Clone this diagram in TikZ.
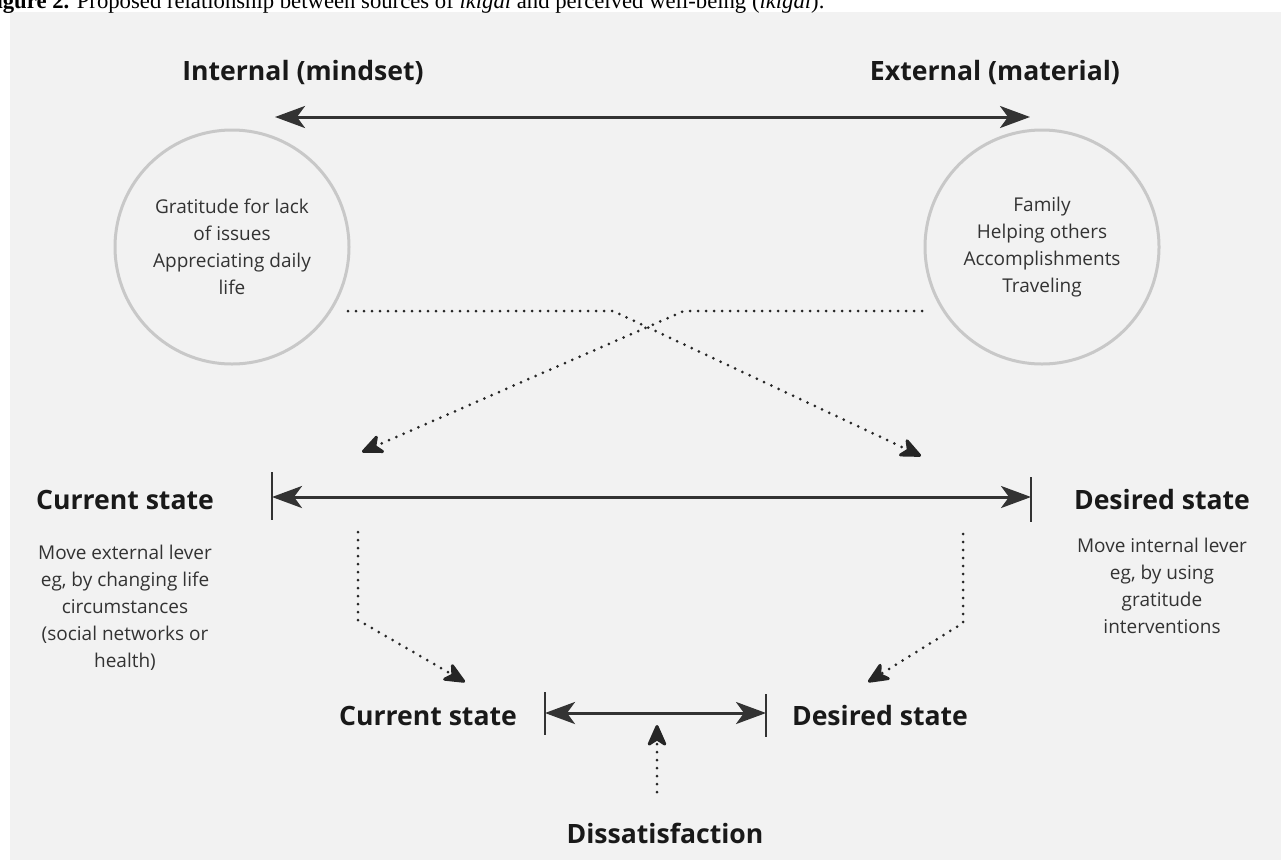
\documentclass[tikz,border=0pt]{standalone}
\usepackage{fontspec}
\setmainfont{Open Sans}
\newfontfamily\capfont{Liberation Serif}
\usetikzlibrary{arrows.meta,positioning}
\definecolor{bggray}{HTML}{F2F2F2}
\definecolor{ink}{HTML}{333333}
\definecolor{ringgray}{HTML}{C8C8C8}
\begin{document}
\begin{tikzpicture}[x=1pt, y=-1pt,
  head/.style={font=\fontsize{26.6}{32}\selectfont\bfseries, text=black!90, inner sep=0pt},
  body/.style={font=\fontsize{19}{27}\selectfont, text=ink, align=center, inner sep=0pt},
  ring/.style={circle, draw=ringgray, line width=3pt, minimum size=234pt, inner sep=0pt,
    font=\fontsize{19}{27}\selectfont, text=ink, align=center},
  bigarrow/.style={draw=ink, line width=3pt,
    {Stealth[length=30pt, width=22pt, inset=8pt]}-{Stealth[length=30pt, width=22pt, inset=8pt]}},
  dotarrow/.style={draw=black!85, line width=3pt, line cap=round, dash pattern=on 0pt off 8pt,
    -{Stealth[length=25pt, width=22pt, inset=7pt, round]}},
  tick/.style={draw=ink, line width=2.5pt}
]
\useasboundingbox (0,0) rectangle (1281,860);
\fill[white] (0,0) rectangle (1281,860);
\fill[bggray] (10,12) rectangle (1281,860);

\node[anchor=base east, font=\capfont\fontsize{22.7}{26}\selectfont] (caption) at (828,8)
  {\textbf{Figure 2.} Proposed relationship between sources of \textit{ikigai} and perceived well-being (\textit{ikigai}).};

\node[head] (internal) at (303,72) {Internal (mindset)};
\node[head] (external) at (995,72) {External (material)};
\coordinate (intend) at (275,117);
\coordinate (extend) at (1030,117);
\draw[bigarrow] (intend) -- (extend);

\node[ring] (intring) at (232,247) {Gratitude for lack\\of issues\\Appreciating daily\\life};
\node[ring] (extring) at (1042,247) {Family\\Helping others\\Accomplishments\\Traveling};

\coordinate (intout) at (348,311);
\coordinate (extout) at (922,311);
\coordinate (curtip) at (362,452);
\coordinate (destip) at (921,456);
\draw[dotarrow] (intout) -- (613,311) -- (destip);
\draw[dotarrow] (extout) -- (684,311) -- (curtip);

\node[head] (current) at (125,500) {Current state};
\node[head] (desired) at (1162,500) {Desired state};
\coordinate (curbar) at (272,497);
\coordinate (desbar) at (1031,497);
\draw[tick] (curbar) ++(0,-25) -- ++(0,48);
\draw[tick] (desbar) ++(0,-20) -- ++(0,45);
\draw[bigarrow] (curbar) -- (desbar);

\node[body, anchor=north] (extlever) at (125,545)
  {Move external lever\\eg, by changing life\\circumstances\\(social networks or\\health)};
\node[body, anchor=north] (intlever) at (1162,538)
  {Move internal lever\\eg, by using\\gratitude\\interventions};

\node[head] (current2) at (428,716) {Current state};
\node[head] (desired2) at (880,716) {Desired state};
\coordinate (cur2bar) at (545,713);
\coordinate (des2bar) at (766,713);
\draw[tick] (cur2bar) ++(0,-21) -- ++(0,43);
\draw[tick] (des2bar) ++(0,-19) -- ++(0,43);
\draw[bigarrow] (cur2bar) -- (des2bar);

\coordinate (lowL) at (358,532);
\coordinate (lowR) at (963,534);
\coordinate (cur2tip) at (465,682);
\coordinate (des2tip) at (868,682);
\draw[dotarrow] (lowL) -- (358,620) -- (cur2tip);
\draw[dotarrow] (lowR) -- (963,623) -- (des2tip);

\node[head] (dissat) at (665,833) {Dissatisfaction};
\coordinate (gap) at (657,725);
\draw[dotarrow] (657,792) -- (gap);
\end{tikzpicture}
\end{document}
